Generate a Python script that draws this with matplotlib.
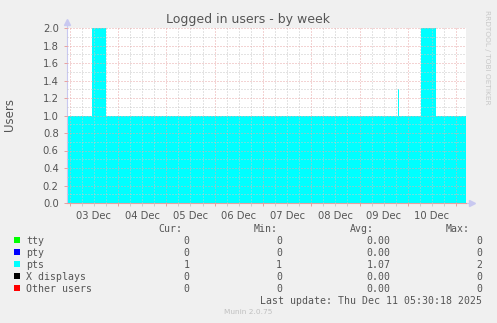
import matplotlib
matplotlib.use("Agg")
import matplotlib.pyplot as plt
from matplotlib.patches import Rectangle
from matplotlib.ticker import FixedLocator, FixedFormatter

# ---- data ----
# hours since 03 Dec 00:00, step values for "pts"
pts_hours = [-1.35, 11.2, 18.0, 163.0, 163.5, 174.6, 182.0, 196.9]
pts_values = [1, 2, 1, 1.3, 1, 2, 1, 1]
day_labels = ["03 Dec", "04 Dec", "05 Dec", "06 Dec", "07 Dec", "08 Dec", "09 Dec", "10 Dec"]
y_ticks = [0.0, 0.2, 0.4, 0.6, 0.8, 1.0, 1.2, 1.4, 1.6, 1.8, 2.0]

series_names = ["tty", "pty", "pts", "X displays", "Other users"]
series_colors = ["#00FF00", "#0000FF", "#00FFFF", "#000000", "#FF0000"]
cur_vals = ["0", "0", "1", "0", "0"]
min_vals = ["0", "0", "1", "0", "0"]
avg_vals = ["0.00", "0.00", "1.07", "0.00", "0.00"]
max_vals = ["0", "0", "2", "0", "0"]

W, H = 497, 323
fig = plt.figure(figsize=(W / 100, H / 100), dpi=100, facecolor="#F0F0F0")

def fx(x):
    return x / W

def fy(y):
    return 1 - y / H

L, R, T, B = 67, 466, 28, 203
ax = fig.add_axes([fx(L), fy(B), (R - L) / W, (B - T) / H])
ax.set_facecolor("white")

ax.fill_between(pts_hours, pts_values, 0, step="post", color="#00FFFF", linewidth=0)

ax.set_xlim(pts_hours[0], pts_hours[-1])
ax.set_ylim(0, 2.0)

# x ticks: major at midnights, minor every 6h; labels at noon (minor)
major_x = [24 * k for k in range(9)]
minor_x = [6 * k for k in range(33) if k % 4 != 0]
ax.xaxis.set_major_locator(FixedLocator(major_x))
ax.xaxis.set_major_formatter(FixedFormatter([""] * len(major_x)))
ax.xaxis.set_minor_locator(FixedLocator(minor_x))
minor_labels = []
for h in minor_x:
    if h % 24 == 12:
        minor_labels.append(day_labels[h // 24])
    else:
        minor_labels.append("")
ax.xaxis.set_minor_formatter(FixedFormatter(minor_labels))

ax.set_yticks(y_ticks)
ax.set_yticklabels([f"{v:.1f}" for v in y_ticks])
ax.yaxis.set_minor_locator(FixedLocator([0.1 + 0.2 * k for k in range(10)]))

ax.set_axisbelow(False)
ax.grid(which="major", color="#E8A8A8", linestyle=(0, (1, 2)), linewidth=0.72)
ax.grid(which="minor", color="#C8C8C8", linestyle=(0, (1, 2)), linewidth=0.72)

ax.tick_params(axis="both", which="both", labelsize=7.2, labelcolor="#555555",
               length=2, width=0.7)
ax.tick_params(axis="x", which="major", color="#E8A0A0", pad=4)
ax.tick_params(axis="x", which="minor", color="#CCCCCC", pad=4)
ax.tick_params(axis="y", which="major", color="#E8A0A0", pad=4)
ax.tick_params(axis="y", which="minor", color="#CCCCCC", length=0)

for s in ["top", "right"]:
    ax.spines[s].set_visible(False)
ax.spines["left"].set_color("#C8C8F0")
ax.spines["bottom"].set_color("#E8A0A0")
ax.spines["left"].set_linewidth(0.8)
ax.spines["bottom"].set_linewidth(0.8)

# axis arrows
ax.plot([0, 0], [1.0, 1.035], transform=ax.transAxes, color="#C8C8F0", lw=0.8, clip_on=False)
ax.plot([0], [1.035], marker="^", markersize=4, color="#C8C8F0", transform=ax.transAxes, clip_on=False)
ax.plot([1.0, 1.012], [0, 0], transform=ax.transAxes, color="#C8C8F0", lw=0.8, clip_on=False)
ax.plot([1.014], [0], marker=">", markersize=4, color="#C8C8F0", transform=ax.transAxes, clip_on=False)

# title and labels
fig.text(fx(248), fy(19), "Logged in users - by week", ha="center", va="center",
         fontsize=9, color="#555555")
fig.text(fx(10), fy(114), "Users", ha="center", va="center", rotation=90,
         fontsize=8.5, color="#555555")
fig.text(fx(487), fy(57), "RRDTOOL / TOBI OETIKER", ha="center", va="center",
         rotation=270, fontsize=5.3, color="#C8C8C8")

# legend
mono = dict(family="DejaVu Sans Mono", fontsize=7.1, color="#555555")
hy = 227.5
fig.text(fx(182), fy(hy), "Cur:", ha="right", va="center_baseline", **mono)
fig.text(fx(278), fy(hy), "Min:", ha="right", va="center_baseline", **mono)
fig.text(fx(374), fy(hy), "Avg:", ha="right", va="center_baseline", **mono)
fig.text(fx(470), fy(hy), "Max:", ha="right", va="center_baseline", **mono)

row_y = [240, 252, 264, 276, 288]
for i, name in enumerate(series_names):
    y = row_y[i]
    fig.patches.append(Rectangle((fx(14), fy(y + 3)), 6 / W, 6 / H,
                                 transform=fig.transFigure, facecolor=series_colors[i],
                                 edgecolor="none"))
    fig.text(fx(26.5), fy(y), name, ha="left", va="center_baseline", **mono)
    fig.text(fx(189.5), fy(y), cur_vals[i], ha="right", va="center_baseline", **mono)
    fig.text(fx(282), fy(y), min_vals[i], ha="right", va="center_baseline", **mono)
    fig.text(fx(390.5), fy(y), avg_vals[i], ha="right", va="center_baseline", **mono)
    fig.text(fx(482.5), fy(y), max_vals[i], ha="right", va="center_baseline", **mono)

fig.text(fx(482.5), fy(300), "Last update: Thu Dec 11 05:30:18 2025", ha="right",
         va="center_baseline", **mono)
fig.text(fx(248), fy(311.5), "Munin 2.0.75", ha="center", va="center",
         fontsize=5.3, color="#C0C0C0")

fig.savefig("out.png", dpi=100, facecolor=fig.get_facecolor())
